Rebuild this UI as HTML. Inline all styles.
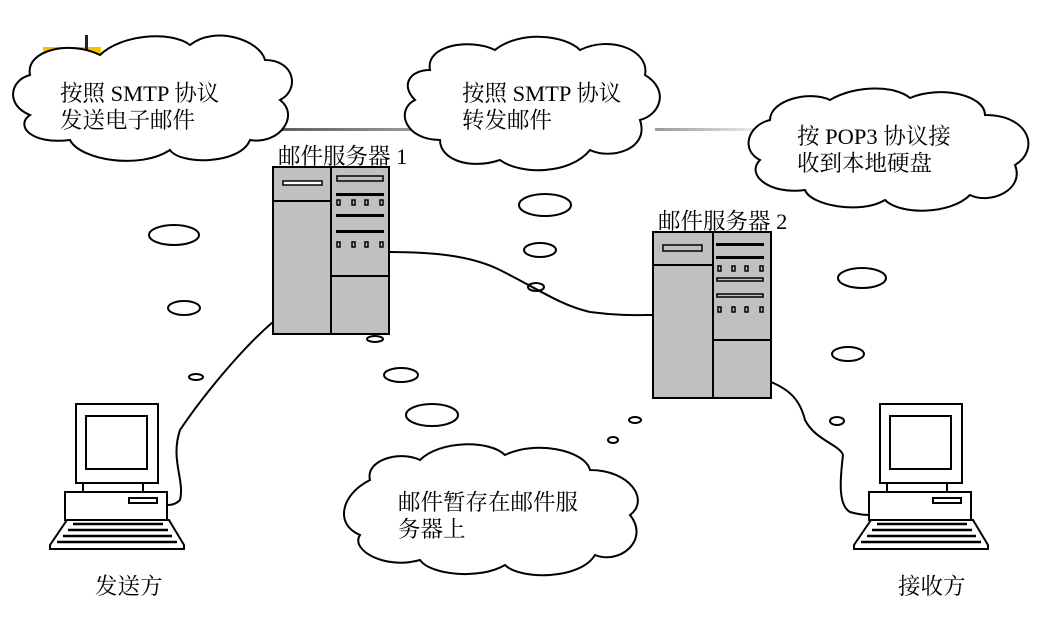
<!DOCTYPE html>
<html><head><meta charset="utf-8"><style>
body{margin:0;background:#fff}
svg{display:block}
text{font-family:"Liberation Serif","Noto Serif CJK SC",serif;font-size:22.5px;fill:#000}
</style></head><body>
<svg width="1047" height="634" viewBox="0 0 1047 634" xmlns="http://www.w3.org/2000/svg">
<defs><linearGradient id="g1" x1="0" x2="1"><stop offset="0" stop-color="#555"/><stop offset="1" stop-color="#999"/></linearGradient>
<linearGradient id="g2" x1="0" x2="1"><stop offset="0" stop-color="#999"/><stop offset="1" stop-color="#eee"/></linearGradient></defs>
<rect x="43" y="47" width="58" height="16" fill="#f5c400"/>
<rect x="85" y="35" width="3" height="22" fill="#222"/>
<rect x="258" y="128" width="155" height="3" fill="url(#g1)"/>
<rect x="655" y="128" width="105" height="3" fill="url(#g2)"/>
<g fill="#fff" stroke="#000" stroke-width="2">
<path d="M30,75 C25,50 70,40 100,55 C120,35 170,30 190,45 C215,25 260,40 265,60 C295,60 300,90 280,100 C300,115 280,145 250,140 C240,165 180,165 170,150 C140,170 80,160 70,140 C30,145 15,125 30,115 C5,105 10,80 30,75 Z"/>
<path d="M430,70 C425,45 470,38 495,50 C520,30 565,35 580,50 C610,35 650,50 645,75 C670,90 660,115 640,120 C650,150 610,160 590,150 C570,175 520,175 500,160 C470,170 440,160 440,140 C405,140 395,110 415,100 C400,85 410,70 430,70 Z"/>
<path d="M770,120 C770,100 810,90 830,100 C855,85 895,85 910,98 C940,85 985,95 985,115 C1030,115 1040,150 1015,165 C1025,190 990,205 970,195 C950,215 900,215 885,200 C860,215 810,205 805,190 C770,195 745,175 760,160 C740,150 748,125 770,120 Z"/>
<path d="M370,480 C365,460 400,450 420,460 C440,440 490,440 505,455 C535,440 585,450 590,470 C630,470 650,500 630,515 C650,540 620,565 595,555 C580,580 520,580 505,565 C480,580 430,575 420,560 C385,570 350,550 360,535 C335,525 340,495 370,480 Z"/>
<ellipse cx="174" cy="235" rx="25" ry="10"/><ellipse cx="184" cy="308" rx="16" ry="7"/>
<ellipse cx="196" cy="377" rx="7" ry="3"/><ellipse cx="375" cy="339" rx="8" ry="3"/>
<ellipse cx="401" cy="375" rx="17" ry="7"/><ellipse cx="432" cy="415" rx="26" ry="11"/>
<ellipse cx="545" cy="205" rx="26" ry="11"/><ellipse cx="540" cy="250" rx="16" ry="7"/>
<ellipse cx="536" cy="287" rx="8" ry="4"/><ellipse cx="862" cy="278" rx="24" ry="10"/>
<ellipse cx="848" cy="354" rx="16" ry="7"/><ellipse cx="837" cy="421" rx="7" ry="4"/>
<ellipse cx="635" cy="420" rx="6" ry="3"/><ellipse cx="613" cy="440" rx="5" ry="3"/>
</g>
<g fill="none" stroke="#000" stroke-width="2">
<path d="M389,252 C430,252 470,255 500,270 C540,290 560,305 590,312 C620,316 640,315 653,315"/>
<path d="M273,322 C240,350 200,400 180,430 C170,460 185,480 180,500 C175,505 170,505 167,505"/>
<path d="M771,382 C790,390 800,400 805,420 C815,440 840,445 843,455 C840,480 838,505 850,512 C860,515 866,515 872,515"/>
</g>
<g stroke="#000" stroke-width="2" fill="#c0c0c0">
<rect x="273" y="167" width="116" height="167"/><line x1="331" y1="167" x2="331" y2="334"/>
<line x1="273" y1="201" x2="331" y2="201"/><line x1="331" y1="276" x2="389" y2="276"/>
<rect x="283" y="181" width="39" height="4" fill="#fff" stroke-width="1.5"/>
<rect x="337" y="176" width="46" height="5" fill="#c0c0c0" stroke-width="1.5"/>
<rect x="653" y="232" width="118" height="166"/><line x1="713" y1="232" x2="713" y2="398"/>
<line x1="653" y1="265" x2="713" y2="265"/><line x1="713" y1="340" x2="771" y2="340"/>
<rect x="663" y="245" width="39" height="6" fill="#c0c0c0" stroke-width="1.5"/>
<rect x="717" y="278" width="46" height="3" stroke-width="1.5"/><rect x="717" y="294" width="46" height="3" stroke-width="1.5"/>
</g>
<g fill="#000">
<rect x="336" y="193" width="48" height="3"/><rect x="336" y="214" width="48" height="3"/><rect x="336" y="230" width="48" height="3"/>
<rect x="716" y="243" width="48" height="3"/><rect x="716" y="256" width="48" height="3"/>
</g>
<g fill="none" stroke="#000" stroke-width="1.5">
<rect x="337" y="200" width="3" height="5"/><rect x="352" y="200" width="3" height="5"/><rect x="365" y="200" width="3" height="5"/><rect x="380" y="200" width="3" height="5"/>
<rect x="337" y="242" width="3" height="5"/><rect x="352" y="242" width="3" height="5"/><rect x="365" y="242" width="3" height="5"/><rect x="380" y="242" width="3" height="5"/>
<rect x="718" y="266" width="3" height="5"/><rect x="732" y="266" width="3" height="5"/><rect x="745" y="266" width="3" height="5"/><rect x="760" y="266" width="3" height="5"/>
<rect x="718" y="307" width="3" height="5"/><rect x="732" y="307" width="3" height="5"/><rect x="745" y="307" width="3" height="5"/><rect x="760" y="307" width="3" height="5"/>
</g>
<g id="pc" fill="#fff" stroke="#000" stroke-width="2">
<rect x="76" y="404" width="82" height="79"/><rect x="86" y="416" width="61" height="53"/>
<rect x="83" y="483" width="60" height="9"/>
<rect x="65" y="492" width="102" height="28"/><rect x="129" y="498" width="28" height="5"/>
<path d="M50,545 L67,520 L169,520 L184,545 L184,549 L50,549 Z"/>
<path d="M73,524 L163,524 M68,530 L168,530 M63,536 L172,536 M57,542 L177,542" stroke-width="2.5"/>
</g>
<use href="#pc" x="804"/>
<text x="60" y="101">按照 SMTP 协议</text><text x="60" y="128">发送电子邮件</text>
<text x="462" y="101">按照 SMTP 协议</text><text x="462" y="128">转发邮件</text>
<text x="797" y="144">按 POP3 协议接</text><text x="797" y="171">收到本地硬盘</text>
<text x="278" y="164">邮件服务器 1</text><text x="658" y="229">邮件服务器 2</text>
<text x="398" y="510">邮件暂存在邮件服</text><text x="398" y="537">务器上</text>
<text x="95" y="594">发送方</text><text x="898" y="594">接收方</text>
</svg>
</body></html>
